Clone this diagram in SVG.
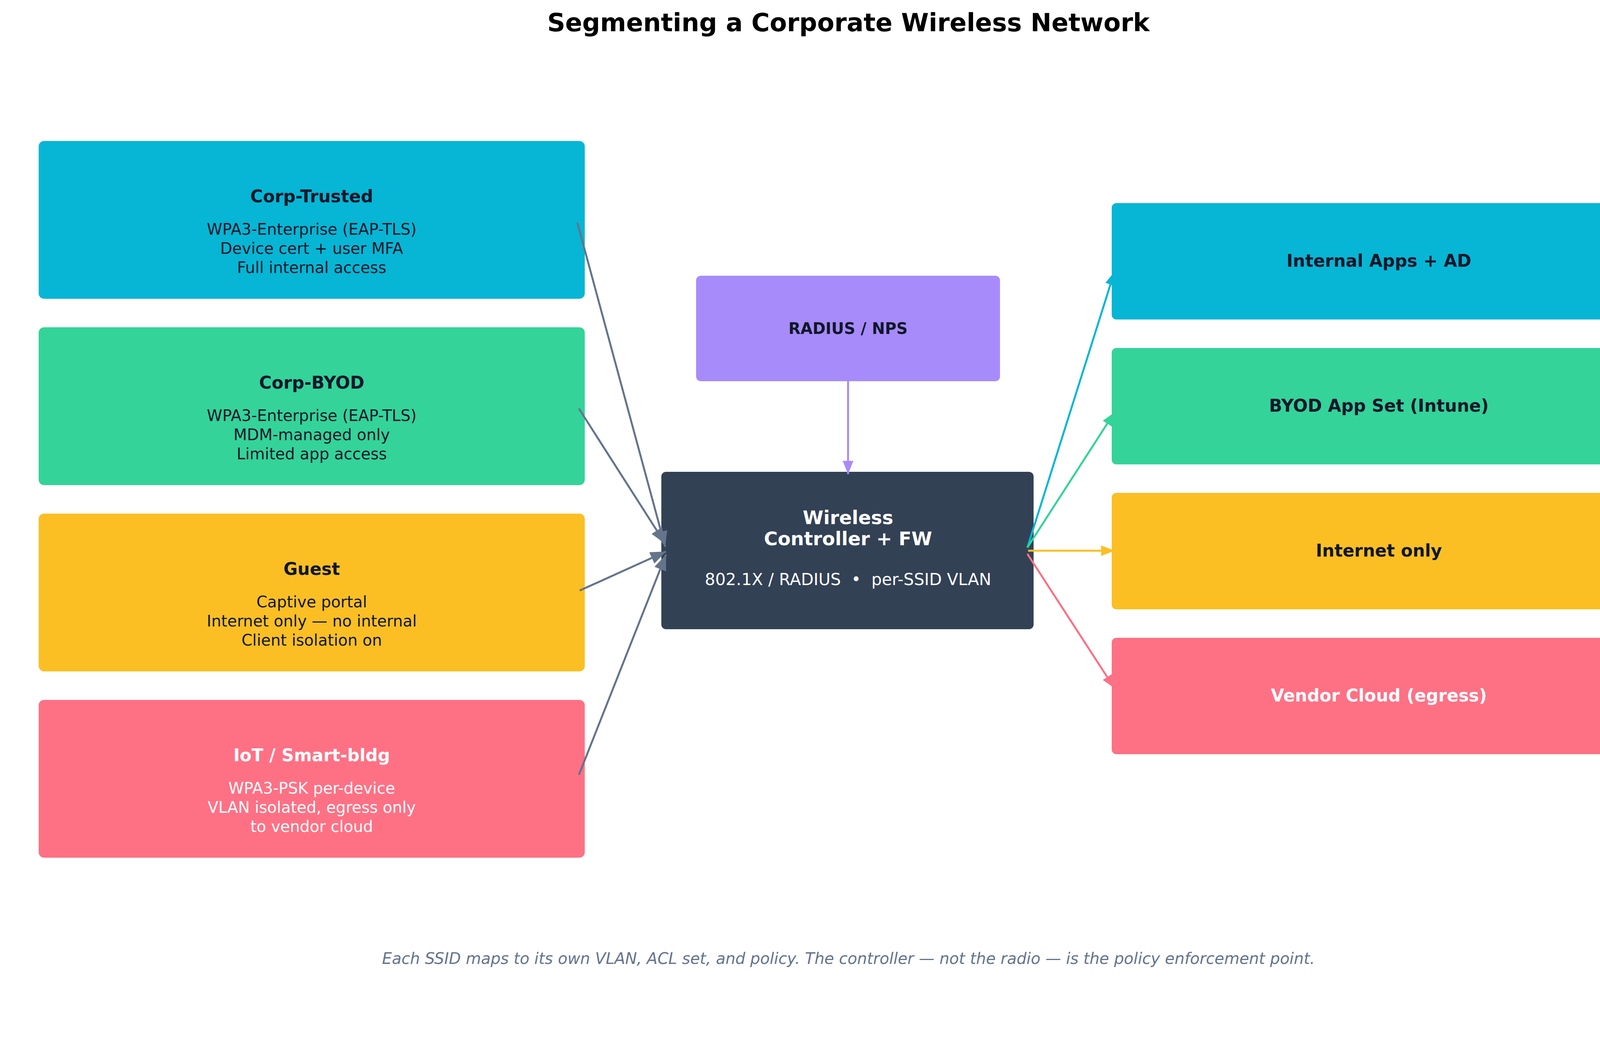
<svg xmlns="http://www.w3.org/2000/svg" width="4320" height="2673" viewBox="0 0 4320 2673">
<defs>
<style>
text{font-family:"DejaVu Sans","Liberation Sans",sans-serif;text-anchor:middle}
.t{font-weight:bold;font-size:44px;fill:#0f172a}
.b{font-size:40px;fill:#0f172a}
.w{fill:#ffffff}
.c{stroke-width:5;fill:none}
</style>
<marker id="ag" viewBox="0 0 10 10" refX="10" refY="5" markerWidth="40" markerHeight="40" markerUnits="userSpaceOnUse" orient="auto"><path d="M0,1 L10,5 L0,9 z" fill="#64748b"/></marker>
<marker id="ap" viewBox="0 0 10 10" refX="10" refY="5" markerWidth="34" markerHeight="34" markerUnits="userSpaceOnUse" orient="auto"><path d="M0,1 L10,5 L0,9 z" fill="#a78bfa"/></marker>
<marker id="ac" viewBox="0 0 10 10" refX="10" refY="5" markerWidth="34" markerHeight="34" markerUnits="userSpaceOnUse" orient="auto"><path d="M0,1 L10,5 L0,9 z" fill="#06b6d4"/></marker>
<marker id="an" viewBox="0 0 10 10" refX="10" refY="5" markerWidth="34" markerHeight="34" markerUnits="userSpaceOnUse" orient="auto"><path d="M0,1 L10,5 L0,9 z" fill="#34d399"/></marker>
<marker id="aa" viewBox="0 0 10 10" refX="10" refY="5" markerWidth="34" markerHeight="34" markerUnits="userSpaceOnUse" orient="auto"><path d="M0,1 L10,5 L0,9 z" fill="#fbbf24"/></marker>
<marker id="ar" viewBox="0 0 10 10" refX="10" refY="5" markerWidth="34" markerHeight="34" markerUnits="userSpaceOnUse" orient="auto"><path d="M0,1 L10,5 L0,9 z" fill="#fb7185"/></marker>
</defs>
<rect width="4320" height="2673" fill="#ffffff"/>
<text x="2172" y="80" style="font-weight:bold;font-size:64px;fill:#000">Segmenting a Corporate Wireless Network</text>

<g id="corp-trusted"><rect x="99" y="361" width="1398" height="404" rx="14" fill="#06b6d4"/>
<text class="t" x="798" y="518">Corp-Trusted</text>
<text class="b" x="798" y="601">WPA3-Enterprise (EAP-TLS)</text><text class="b" x="798" y="650">Device cert + user MFA</text><text class="b" x="798" y="699">Full internal access</text></g>
<g id="corp-byod"><rect x="99" y="838" width="1398" height="404" rx="14" fill="#34d399"/>
<text class="t" x="798" y="995">Corp-BYOD</text>
<text class="b" x="798" y="1078">WPA3-Enterprise (EAP-TLS)</text><text class="b" x="798" y="1127">MDM-managed only</text><text class="b" x="798" y="1176">Limited app access</text></g>
<g id="guest"><rect x="99" y="1315" width="1398" height="404" rx="14" fill="#fbbf24"/>
<text class="t" x="798" y="1472">Guest</text>
<text class="b" x="798" y="1555">Captive portal</text><text class="b" x="798" y="1604">Internet only — no internal</text><text class="b" x="798" y="1653">Client isolation on</text></g>
<g id="iot"><rect x="99" y="1792" width="1398" height="404" rx="14" fill="#fe7185"/>
<text class="t w" x="798" y="1949">IoT / Smart-bldg</text>
<text class="b w" x="798" y="2032">WPA3-PSK per-device</text><text class="b w" x="798" y="2081">VLAN isolated, egress only</text><text class="b w" x="798" y="2130">to vendor cloud</text></g>

<g id="radius"><rect x="1782" y="706" width="778" height="270" rx="12" fill="#a78bfa"/>
<text class="t" x="2171" y="855" style="font-size:40px">RADIUS / NPS</text></g>
<g id="controller"><rect x="1693" y="1208" width="953" height="403" rx="12" fill="#334155"/>
<text class="t w" x="2171" y="1342" style="font-size:48px">Wireless</text>
<text class="t w" x="2171" y="1396" style="font-size:48px">Controller + FW</text>
<text class="b w" x="2171" y="1498" style="font-size:42px" xml:space="preserve">802.1X / RADIUS  •  per-SSID VLAN</text></g>

<g id="internal"><rect x="2846" y="520" width="1367" height="298" rx="12" fill="#06b6d4"/><text class="t" x="3530" y="683">Internal Apps + AD</text></g>
<g id="byod-apps"><rect x="2846" y="891" width="1367" height="298" rx="12" fill="#34d399"/><text class="t" x="3530" y="1054">BYOD App Set (Intune)</text></g>
<g id="internet"><rect x="2846" y="1262" width="1367" height="298" rx="12" fill="#fbbf24"/><text class="t" x="3530" y="1425">Internet only</text></g>
<g id="vendor"><rect x="2846" y="1633" width="1367" height="298" rx="12" fill="#fe7185"/><text class="t w" x="3530" y="1796">Vendor Cloud (egress)</text></g>

<g id="connectors">
<line class="c" stroke="#64748b" x1="1478" y1="570" x2="1703" y2="1400" marker-end="url(#ag)"/>
<line class="c" stroke="#64748b" x1="1482" y1="1046" x2="1703" y2="1392" marker-end="url(#ag)"/>
<line class="c" stroke="#64748b" x1="1484" y1="1512" x2="1705" y2="1412" marker-end="url(#ag)"/>
<line class="c" stroke="#64748b" x1="1482" y1="1984" x2="1705" y2="1420" marker-end="url(#ag)"/>
<line class="c" stroke="#a78bfa" x1="2171" y1="976" x2="2171" y2="1214" marker-end="url(#ap)"/>
<line class="c" stroke="#06b6d4" x1="2630" y1="1402" x2="2853" y2="696" marker-end="url(#ac)"/>
<line class="c" stroke="#34d399" x1="2630" y1="1402" x2="2853" y2="1056" marker-end="url(#an)"/>
<line class="c" stroke="#fbbf24" x1="2632" y1="1410" x2="2853" y2="1410" marker-end="url(#aa)"/>
<line class="c" stroke="#fb7185" x1="2630" y1="1418" x2="2853" y2="1762" marker-end="url(#ar)"/>
</g>
<text x="2172" y="2468" style="font-style:italic;font-size:40px;fill:#64748b">Each SSID maps to its own VLAN, ACL set, and policy. The controller — not the radio — is the policy enforcement point.</text>
</svg>
